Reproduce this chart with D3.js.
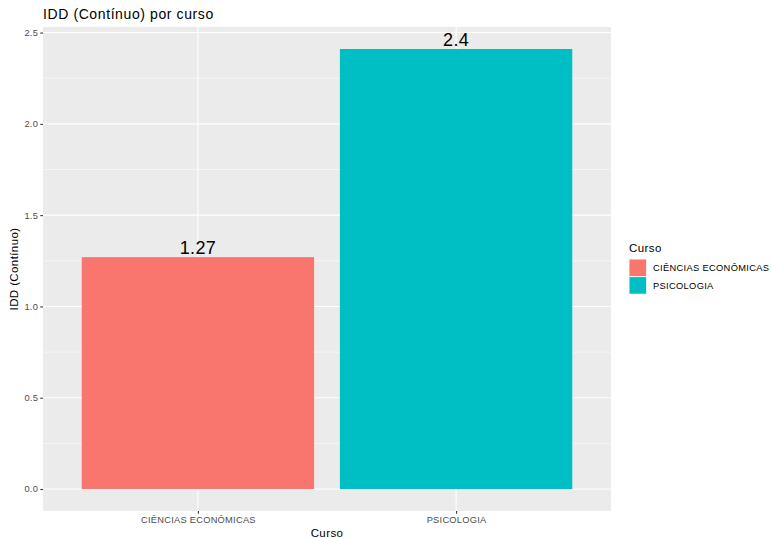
<!DOCTYPE html>
<html><head><meta charset="utf-8">
<script src="https://cdn.jsdelivr.net/npm/d3@7"></script>
<style>body{margin:0;background:#fff}svg{display:block;font-family:"Liberation Sans",Arial,sans-serif}</style>
</head><body><svg id="c" width="771" height="538"></svg>
<script>
const categories = ["CIÊNCIAS ECONÔMICAS", "PSICOLOGIA"];
const values = [1.27, 2.41];
const valueLabels = ["1.27", "2.4"];
const colors = ["#F8766D", "#00BFC4"];
const yTicks = [0, 0.5, 1.0, 1.5, 2.0, 2.5];
const yMinor = [0.25, 0.75, 1.25, 1.75, 2.25];

const svg = d3.select("#c");
const L = 43, R = 611, T = 27, B = 511;
const ymax = d3.max(values);
const y = d3.scaleLinear().domain([-0.05*ymax, 1.05*ymax]).range([B, T]);
const unit = (R - L) / 2.2;
const xc = d3.scalePoint().domain(categories).range([L + 0.6*unit, R - 0.6*unit]);
const bw = 0.9 * unit;

svg.append("rect").attr("x", L).attr("y", T).attr("width", R-L).attr("height", B-T).attr("fill", "#EBEBEB");
svg.selectAll(".ymin").data(yMinor).join("line").attr("x1", L).attr("x2", R)
  .attr("y1", d=>y(d)).attr("y2", d=>y(d)).attr("stroke", "#fff").attr("stroke-width", 0.53);
svg.selectAll(".ymaj").data(yTicks).join("line").attr("x1", L).attr("x2", R)
  .attr("y1", d=>y(d)).attr("y2", d=>y(d)).attr("stroke", "#fff").attr("stroke-width", 1.07);
svg.selectAll(".xmaj").data(categories).join("line").attr("y1", T).attr("y2", B)
  .attr("x1", d=>xc(d)).attr("x2", d=>xc(d)).attr("stroke", "#fff").attr("stroke-width", 1.07);

svg.selectAll(".bar").data(values).join("rect")
  .attr("x", (d,i)=>xc(categories[i]) - bw/2).attr("width", bw)
  .attr("y", d=>y(d)).attr("height", d=>y(0)-y(d)).attr("fill", (d,i)=>colors[i]);

svg.selectAll(".vl").data(values).join("text")
  .attr("x", (d,i)=>xc(categories[i])).attr("y", d=>y(d) - 3.2)
  .attr("text-anchor", "middle").attr("font-size", 18).attr("letter-spacing", 0.3).attr("fill", "#000")
  .text((d,i)=>valueLabels[i]);

const tickFont = t => t.attr("fill", "#4D4D4D").attr("font-size", 9.3).attr("letter-spacing", 0.25)
  .attr("font-family", "Liberation Sans, Arial, sans-serif");

const ya = svg.append("g").attr("transform", `translate(${L},0)`)
  .call(d3.axisLeft(y).tickValues(yTicks).tickFormat(d3.format(".1f")).tickSize(2.74).tickPadding(2.2));
ya.select(".domain").remove();
ya.selectAll("line").attr("stroke", "#333").attr("stroke-width", 1.07);
tickFont(ya.selectAll("text"));

const xa = svg.append("g").attr("transform", `translate(0,${B})`)
  .call(d3.axisBottom(xc).tickSize(2.74).tickPadding(2.2));
xa.select(".domain").remove();
xa.selectAll("line").attr("stroke", "#333").attr("stroke-width", 1.07);
tickFont(xa.selectAll("text"));

svg.append("text").attr("x", (L+R)/2).attr("y", 537).attr("text-anchor", "middle")
  .attr("font-size", 11.5).attr("letter-spacing", 0.4).attr("fill", "#000").text("Curso");
svg.append("text").attr("transform", `translate(18,${(T+B)/2}) rotate(-90)`).attr("text-anchor", "middle")
  .attr("font-size", 11.5).attr("letter-spacing", 0.4).attr("fill", "#000").text("IDD (Contínuo)");
svg.append("text").attr("x", L).attr("y", 19).attr("font-size", 14).attr("letter-spacing", 0.6)
  .attr("fill", "#000").text("IDD (Contínuo) por curso");

// legend
const lg = svg.append("g").attr("transform", "translate(629,0)");
lg.append("text").attr("x", 0).attr("y", 252).attr("font-size", 11.5).attr("letter-spacing", 0.4)
  .attr("fill", "#000").text("Curso");
categories.forEach((c,i)=>{
  lg.append("rect").attr("x", 0).attr("y", 259 + i*17.6).attr("width", 17.6).attr("height", 17.6).attr("fill", "#F2F2F2");
  lg.append("rect").attr("x", 0.5).attr("y", 259.5 + i*17.6).attr("width", 16.6).attr("height", 16.6).attr("fill", colors[i]);
  lg.append("text").attr("x", 24).attr("y", 259 + i*17.6 + 8.8).attr("dy", "0.35em")
    .attr("font-size", 9.3).attr("letter-spacing", 0.33).attr("fill", "#000").text(c);
});
</script></body></html>
